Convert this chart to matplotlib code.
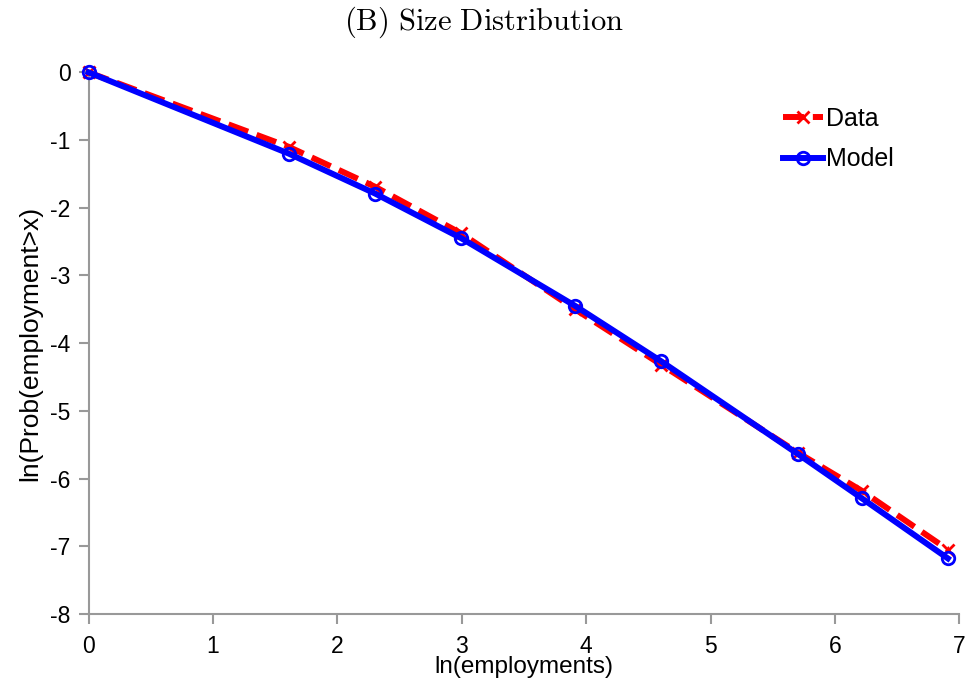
import matplotlib
matplotlib.use("Agg")
import matplotlib.pyplot as plt
import numpy as np

# employment thresholds (log scale) and log survival probabilities
ln_emp = [0.0, 1.609, 2.303, 2.996, 3.912, 4.605, 5.704, 6.215, 6.908]
data_y = [0.0, -1.10, -1.69, -2.38, -3.50, -4.32, -5.62, -6.18, -7.05]
model_y = [0.0, -1.20, -1.79, -2.45, -3.45, -4.27, -5.64, -6.29, -7.18]

xticks = list(range(0, 8))
yticks = list(range(-8, 1))

plt.rcParams['font.family'] = ['Liberation Sans', 'DejaVu Sans']
plt.rcParams['mathtext.fontset'] = 'cm'
plt.rcParams['axes.unicode_minus'] = False

fig = plt.figure(figsize=(9.68, 6.89), dpi=100)
ax = fig.add_axes([0.0915, 0.109, 0.8995, 0.786])

ax.plot(ln_emp, data_y, color='red', lw=4.3, ls=(0, (3.5, 1.5)), marker='x',
        ms=9, mew=2, label='Data', clip_on=False, zorder=3)
ax.plot(ln_emp, model_y, color='blue', lw=4.3, marker='o', ms=9,
        mfc='none', mew=2, label='Model', clip_on=False, zorder=4)

ax.set_xlim(0, 7)
ax.set_ylim(-8, 0)
ax.set_xticks(xticks)
ax.set_yticks(yticks)
ax.tick_params(direction='out', length=7, width=1.5, color='#999999',
               labelsize=16.5)
ax.tick_params(axis='x', pad=8)
ax.tick_params(axis='y', pad=6)
for s in ['top', 'right']:
    ax.spines[s].set_visible(False)
for s in ['left', 'bottom']:
    ax.spines[s].set_color('#999999')
    ax.spines[s].set_linewidth(1.5)

ax.set_xlabel('ln(employments)', fontsize=17.5, labelpad=-1)
ax.set_ylabel('ln(Prob(employment>x)', fontsize=19, labelpad=6)
fig.text(0.5, 1 - 22 / 689, r'$\mathrm{(B)\ Size\ Distribution}$',
         ha='center', va='center', fontsize=22)

ax.legend(loc='upper left', bbox_to_anchor=(783 / 968, 1 - 107 / 689),
          bbox_transform=fig.transFigure, frameon=False, borderpad=0,
          borderaxespad=0, fontsize=18, handlelength=1.6,
          handletextpad=0.1, labelspacing=0.65)

fig.savefig('out.png', dpi=100)
